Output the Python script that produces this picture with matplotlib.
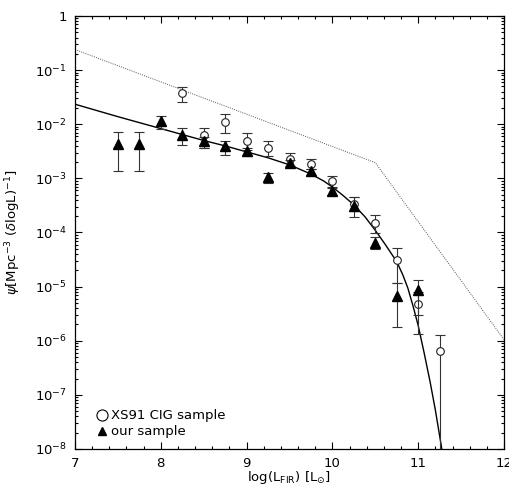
import numpy as np
import matplotlib
matplotlib.use("Agg")
import matplotlib.pyplot as plt
from matplotlib.lines import Line2D
from matplotlib.ticker import FixedLocator, FixedFormatter, LogLocator, NullFormatter, MultipleLocator

plt.rcParams['font.family'] = ['DejaVu Sans']
plt.rcParams['mathtext.fontset'] = 'dejavusans'

# "our sample" (filled triangles)
x_ours = [7.5, 7.75, 8.0, 8.25, 8.5, 8.75, 9.0, 9.25, 9.5, 9.75, 10.0, 10.25, 10.5, 10.75, 11.0]
psi_ours = [4.4e-3, 4.4e-3, 1.15e-2, 6.4e-3, 5.0e-3, 3.9e-3, 3.2e-3, 1.07e-3, 1.95e-3, 1.35e-3,
            5.9e-4, 3.1e-4, 6.5e-5, 6.8e-6, 8.6e-6]
psi_ours_hi = [7.2e-3, 7.2e-3, 1.45e-2, 8.5e-3, 5.9e-3, 4.9e-3, 3.6e-3, 1.27e-3, 2.2e-3, 1.5e-3,
               6.7e-4, 4.5e-4, 8.3e-5, 1.15e-5, 1.35e-5]
psi_ours_lo = [1.37e-3, 1.37e-3, 8.2e-3, 4.1e-3, 3.7e-3, 2.75e-3, 2.6e-3, 8.1e-4, 1.6e-3, 1.14e-3,
               5.0e-4, 1.9e-4, 4.9e-5, 1.8e-6, 3.0e-6]

# "XS91 CIG sample" (open circles)
x_cig = [8.25, 8.5, 8.75, 9.0, 9.25, 9.5, 9.75, 10.0, 10.25, 10.5, 10.75, 11.0, 11.25]
psi_cig = [3.7e-2, 6.3e-3, 1.12e-2, 5.0e-3, 3.7e-3, 2.24e-3, 1.82e-3, 8.9e-4, 3.3e-4, 1.51e-4,
           3.1e-5, 4.7e-6, 6.5e-7]
psi_cig_hi = [4.9e-2, 8.5e-3, 1.54e-2, 6.8e-3, 4.9e-3, 3.0e-3, 2.3e-3, 1.1e-3, 4.5e-4, 2.15e-4,
              5.2e-5, 8.0e-6, 1.26e-6]
psi_cig_lo = [2.6e-2, 3.6e-3, 6.8e-3, 3.4e-3, 2.6e-3, 1.7e-3, 1.47e-3, 7.0e-4, 2.5e-4, 9.6e-5,
              1.15e-5, 1.36e-6, 1e-9]

# dotted broken power law
x_dot = [7.0, 10.5, 12.0]
psi_dot = [0.24, 1.95e-3, 1.05e-6]

# solid fitted curve (log10 psi)
x_fit = [7.0, 7.5, 8.0, 8.5, 8.75, 9.0, 9.25, 9.5, 9.75, 9.9, 10.0, 10.12, 10.25, 10.38, 10.5,
         10.62, 10.75, 10.82, 10.88, 10.94, 11.0, 11.07, 11.14, 11.2, 11.27, 11.3]
logpsi_fit = [-1.63, -1.86, -2.08, -2.30, -2.40, -2.51, -2.62, -2.75, -2.92, -3.05, -3.16,
              -3.31, -3.49, -3.71, -3.96, -4.23, -4.54, -4.78, -5.03, -5.36, -5.72, -6.23,
              -6.77, -7.28, -7.95, -8.3]

x_ticks = [7, 8, 9, 10, 11, 12]
y_ticks = [1, 1e-1, 1e-2, 1e-3, 1e-4, 1e-5, 1e-6, 1e-7, 1e-8]
y_ticklabels = ['1', r'$10^{-1}$', r'$10^{-2}$', r'$10^{-3}$', r'$10^{-4}$', r'$10^{-5}$',
                r'$10^{-6}$', r'$10^{-7}$', r'$10^{-8}$']

fig = plt.figure(figsize=(5.10, 4.87), dpi=100)
ax = fig.add_axes([75/510, 38/487, 429/510, 433/487])
ax.set_yscale('log')
ax.set_xlim(7, 12)
ax.set_ylim(1e-8, 1)

ax.plot(x_dot, psi_dot, color='#555555', lw=0.7, ls=(0, (1, 1.3)))
ax.plot(x_fit, 10 ** np.array(logpsi_fit), color='black', lw=1.0)

def errs(y, lo, hi):
    y = np.array(y); lo = np.array(lo); hi = np.array(hi)
    return np.vstack([y - lo, hi - y])

ax.errorbar(x_cig, psi_cig, yerr=errs(psi_cig, psi_cig_lo, psi_cig_hi), fmt='o', ms=5.5,
            mfc='white', mec='#222222', mew=0.8, ecolor='#333333', elinewidth=0.8,
            capsize=3.5, capthick=0.8, zorder=3)
ax.errorbar(x_ours, psi_ours, yerr=errs(psi_ours, psi_ours_lo, psi_ours_hi), fmt='^', ms=6.5,
            mfc='black', mec='black', ecolor='#333333', elinewidth=0.8,
            capsize=3.5, capthick=0.8, zorder=4)

ax.xaxis.set_major_locator(FixedLocator(x_ticks))
ax.xaxis.set_minor_locator(MultipleLocator(0.2))
ax.set_xticklabels([str(t) for t in x_ticks])
ax.yaxis.set_major_locator(FixedLocator(y_ticks))
ax.yaxis.set_major_formatter(FixedFormatter(y_ticklabels))
ax.yaxis.set_minor_locator(LogLocator(base=10, subs=np.arange(2, 10), numticks=20))
ax.yaxis.set_minor_formatter(NullFormatter())

ax.tick_params(which='both', direction='in', top=True, right=True, width=0.8, labelsize=9.5)
ax.tick_params(which='major', length=5, pad=6)
ax.tick_params(which='minor', length=2.5)
for s in ax.spines.values():
    s.set_linewidth(0.9)

ax.set_xlabel(r'log(L$_{\rm FIR}$) [L$_{\odot}$]', fontsize=9.5, labelpad=-1)
ax.set_ylabel(r'$\psi$[Mpc$^{-3}$ ($\delta$logL)$^{-1}$]', fontsize=9.5, labelpad=8)

handles = [Line2D([], [], ls='none', marker='o', ms=8, mfc='white', mec='black', mew=0.8),
           Line2D([], [], ls='none', marker='^', ms=6, mfc='black', mec='black')]
ax.legend(handles, ['XS91 CIG sample', 'our sample'], loc='lower left', frameon=False,
          fontsize=9.5, handletextpad=0.1, handlelength=1.2, borderpad=0.3,
          labelspacing=0.25, bbox_to_anchor=(0.02, 0.0))

fig.savefig('out.png', dpi=100)
